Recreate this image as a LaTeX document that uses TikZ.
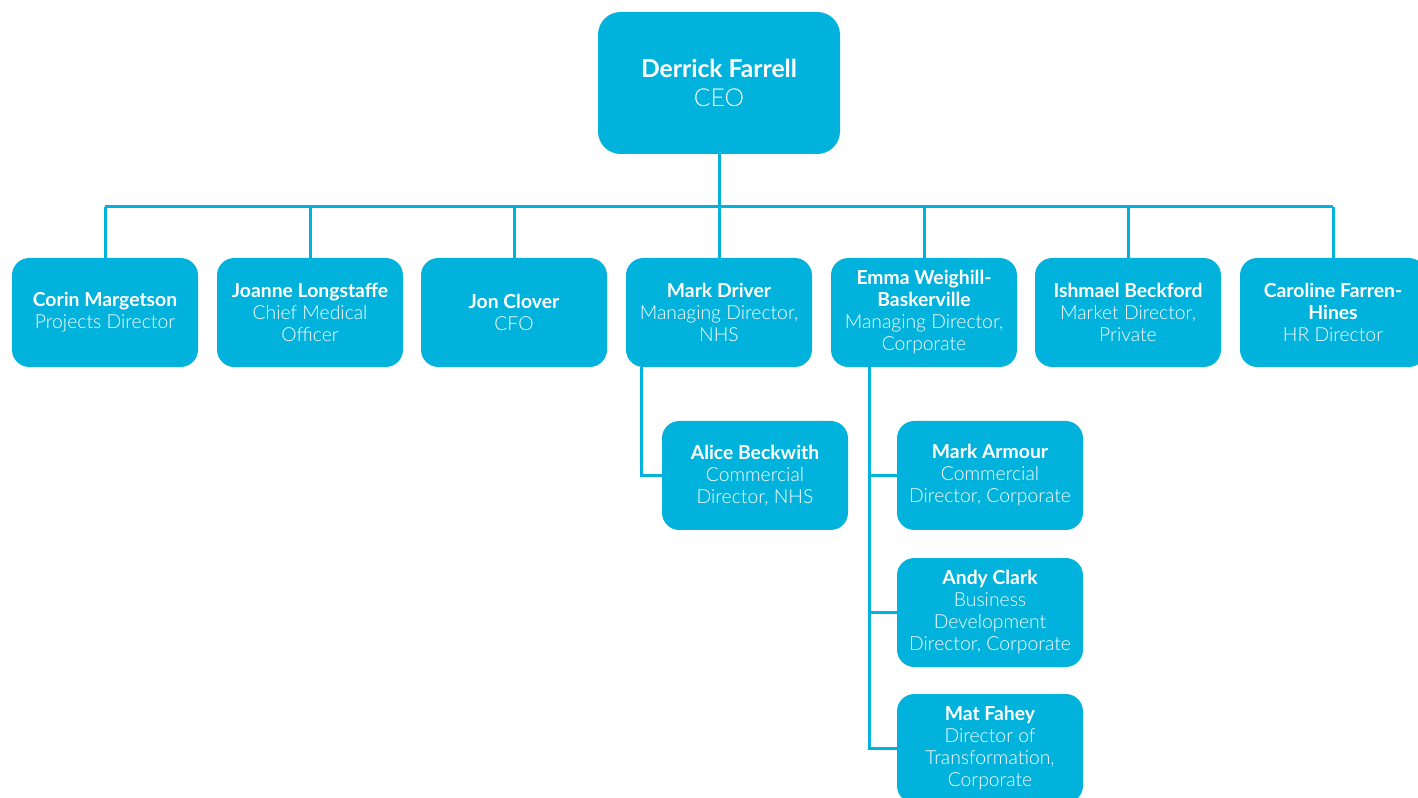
\documentclass[tikz,border=0pt]{standalone}
\usepackage{fontspec}
\setmainfont{Lato}
\newfontfamily\lightfont{Lato}[UprightFont={* Light}]
\definecolor{brand}{HTML}{00B2DC}
\tikzset{
  box/.style={fill=brand, rounded corners=13pt, minimum width=139.5pt, minimum height=81.75pt,
    align=center, text=white, inner sep=0pt, font=\fontsize{14.5}{16.5}\selectfont},
  ceobox/.style={box, minimum width=181.5pt, minimum height=106.5pt, rounded corners=17pt,
    font=\fontsize{18.5}{21.75}\selectfont},
  link/.style={draw=brand, line width=2.25pt},
}
\newcommand{\nm}[1]{\textbf{#1}}
\newcommand{\rl}[1]{{\lightfont #1}}
\begin{document}
\begin{tikzpicture}[x=0.75pt,y=-0.75pt]
\useasboundingbox (0,0) rectangle (1418,798);
\clip (0,0) rectangle (1418,798);
\node[ceobox] (ceo) at (719,83) {\nm{Derrick Farrell}\\\rl{CEO}};
\node[box] (c1) at (105,312.5) {\nm{Corin Margetson}\\\rl{Projects Director}};
\node[box] (c2) at (310,312.5) {\nm{Joanne Longstaffe}\\\rl{Chief Medical}\\\rl{Officer}};
\node[box] (c3) at (514,312.5) {\nm{Jon Clover}\\\rl{CFO}};
\node[box] (c4) at (719,312.5) {\nm{Mark Driver}\\\rl{Managing Director,}\\\rl{NHS}};
\node[box] (c5) at (924,312.5) {\nm{Emma Weighill-}\\\nm{Baskerville}\\\rl{Managing Director,}\\\rl{Corporate}};
\node[box] (c6) at (1128,312.5) {\nm{Ishmael Beckford}\\\rl{Market Director,}\\\rl{Private}};
\node[box] (c7) at (1333,312.5) {\nm{Caroline Farren-}\\\nm{Hines}\\\rl{HR Director}};
\node[box] (alice) at (755,475.5) {\nm{Alice Beckwith}\\\rl{Commercial}\\\rl{Director, NHS}};
\node[box] (armour) at (990,475.5) {\nm{Mark Armour}\\\rl{Commercial}\\\rl{Director, Corporate}};
\node[box] (clark) at (990,612.5) {\nm{Andy Clark}\\\rl{Business}\\\rl{Development}\\\rl{Director, Corporate}};
\node[box] (fahey) at (990,748.5) {\nm{Mat Fahey}\\\rl{Director of}\\\rl{Transformation,}\\\rl{Corporate}};
\coordinate (bus) at (719,207);
\draw[link] (ceo.south) -- (ceo.south |- bus);
\draw[link] (c1.north |- bus) -- (c7.north |- bus);
\foreach \n in {c1,c2,c3,c4,c5,c6,c7}{
  \draw[link] (\n.north) -- (\n.north |- bus);
}
\coordinate (dtrunk) at ([xshift=-58.5pt]c4.south);
\draw[link] (dtrunk) |- (alice.west);
\coordinate (etrunk) at ([xshift=-41.25pt]c5.south);
\draw[link] (etrunk) |- (fahey.west);
\draw[link] (etrunk |- armour.west) -- (armour.west);
\draw[link] (etrunk |- clark.west) -- (clark.west);
\end{tikzpicture}
\end{document}
